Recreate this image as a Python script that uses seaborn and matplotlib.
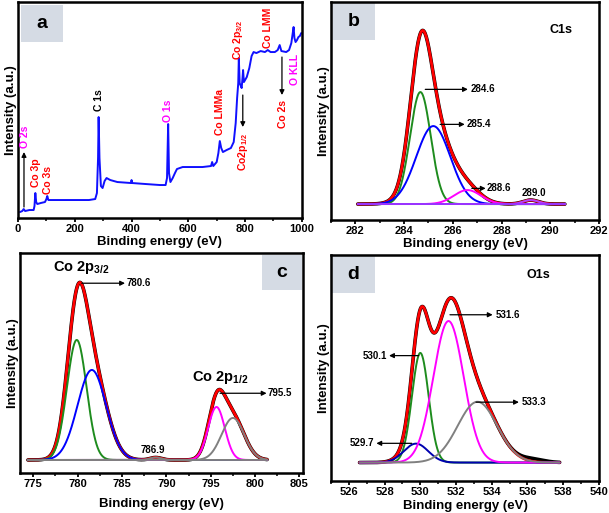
import numpy as np
import seaborn as sns
import matplotlib.pyplot as plt
from matplotlib.patches import Rectangle
from matplotlib.ticker import MultipleLocator

# ---- panel a: survey spectrum ----
survey_be = [7, 15, 20, 25, 40, 55, 58, 61, 64, 68, 80, 95, 100, 103, 107, 115, 150, 200, 250,
             272, 278, 282, 284, 287, 292, 298, 305, 312, 325, 350, 398, 400, 402, 450, 500,
             520, 525, 529, 532, 537, 545, 553, 560, 580, 650, 680, 684, 688, 700, 706, 711,
             716, 722, 735, 750, 760, 767, 772, 776, 778, 781, 785, 788, 791, 793, 796, 800,
             806, 815, 823, 830, 840, 855, 870, 880, 890, 905, 915, 922, 928, 945, 955, 963,
             968, 971, 974, 978, 983, 988, 993, 998]
survey_int = [6, 7, 9, 7, 8, 8, 12, 25, 16, 14, 15, 16, 19, 22, 18, 18, 18, 18, 18,
              19, 25, 60, 101, 60, 32, 30, 37, 40, 38, 36, 35, 38, 35, 34, 33,
              33, 40, 94, 45, 36, 40, 45, 49, 51, 51, 52, 56, 52, 56, 65, 77,
              70, 66, 68, 70, 76, 95, 120, 135, 160, 135, 132, 130, 140, 148, 136, 138,
              141, 150, 162, 166, 165, 167, 166, 168, 166, 166, 168, 173, 167, 166, 168, 175,
              185, 191, 180, 176, 178, 181, 182, 185]

survey_labels = ['O 2s', 'Co 3p', 'Co 3s', 'C 1s', 'O 1s', 'Co LMMa', 'Co 2p$_{3/2}$',
                 'Co2p$_{1/2}$', 'Co LMM', 'Co 2s', 'O KLL']
survey_label_x = [25, 63, 106, 285, 528, 711, 775, 792, 880, 933, 975]
survey_label_y = [81, 45, 38, 118, 107, 106, 178, 66, 190, 104, 149]
survey_label_col = ['#ff00ff', 'red', 'red', 'black', '#ff00ff', 'red', 'red',
                    'red', 'red', 'red', '#ff00ff']

# ---- panel b: C1s fit (centre, height, fwhm) ----
c1s_pos = [284.67, 285.2, 286.6, 289.2]
c1s_amp = [112, 78, 14, 4]
c1s_fwhm = [1.0, 1.65, 1.3, 0.75]
c1s_col = ['#1e8c1e', '#0000ff', '#ff00ff', '#b040ff']
c1s_range = [282.1, 290.6]
c1s_tags = ['284.6', '285.4', '288.6']

# ---- panel c: Co 2p fit ----
co_pos = [779.9, 781.6, 795.65, 797.5, 788.8]
co_amp = [120, 90, 53, 42, 2.5]
co_fwhm = [2.6, 3.8, 2.2, 3.0, 1.5]
co_col = ['#1e8c1e', '#0000ff', '#ff00ff', '#808080', '#808080']
co_range = [774.4, 801.35]

# ---- panel d: O1s fit ----
o1s_pos = [530.0, 529.76, 531.58, 533.2]
o1s_amp = [110, 19, 142, 61]
o1s_fwhm = [1.1, 1.6, 2.0, 2.6]
o1s_col = ['#1e8c1e', '#0000b0', '#ff00ff', '#808080']
o1s_range = [526.6, 537.8]
o1s_tail = [536.3, 3, 1.5]


def peak(x, c, h, w):
    return h * np.exp(-4 * np.log(2) * (x - c) ** 2 / w ** 2)


sns.set_theme(style='white')
plt.rcParams['font.family'] = ['Liberation Sans', 'DejaVu Sans']
plt.rcParams['font.weight'] = 'bold'
plt.rcParams['axes.labelweight'] = 'bold'
plt.rcParams['text.color'] = 'black'
plt.rcParams['axes.labelcolor'] = 'black'
plt.rcParams['xtick.color'] = 'black'
plt.rcParams['mathtext.fontset'] = 'custom'
for k in ['rm', 'it', 'bf', 'sf']:
    plt.rcParams['mathtext.' + k] = 'Liberation Sans:bold'

fig = plt.figure(figsize=(6.09, 5.13), dpi=100)
axa = fig.add_axes([0.0296, 0.575, 0.466, 0.421])
axb = fig.add_axes([0.5435, 0.571, 0.440, 0.425])
axc = fig.add_axes([0.0328, 0.078, 0.4647, 0.429])
axd = fig.add_axes([0.5435, 0.062, 0.440, 0.441])

box_col = '#d5dbe4'
arrow = dict(arrowstyle='-|>', color='black', lw=0.9, mutation_scale=7, shrinkA=0, shrinkB=0)


def style(ax, major, minor, xlim, ylim, letter, box, pad):
    ax.set_xlim(xlim)
    ax.set_ylim(ylim)
    ax.set_yticks([])
    ax.xaxis.set_major_locator(MultipleLocator(major))
    ax.xaxis.set_minor_locator(MultipleLocator(minor))
    ax.tick_params(axis='x', which='major', direction='out', length=3, width=1.3,
                   labelsize=8, pad=1.5, bottom=True)
    ax.tick_params(axis='x', which='minor', direction='out', length=2, width=1.1, bottom=True)
    for s in ax.spines.values():
        s.set_linewidth(1.8)
        s.set_color('black')
    ax.set_xlabel('Binding energy (eV)', fontsize=9.5, labelpad=pad)
    ax.set_ylabel('Intensity (a.u.)', fontsize=9.5, labelpad=0.5)
    ax.add_patch(Rectangle((box[0], box[1]), box[2], box[3], transform=ax.transAxes,
                           facecolor=box_col, edgecolor='none', zorder=0))
    ax.text(box[0] + box[2] / 2, box[1] + box[3] / 2, letter, transform=ax.transAxes,
            ha='center', va='center', fontsize=14, fontweight='bold')


# panel a
sns.lineplot(x=survey_be, y=survey_int, ax=axa, color='#1010ff', lw=1.4, sort=False, estimator=None)
for t, x, y, c in zip(survey_labels, survey_label_x, survey_label_y, survey_label_col):
    axa.text(x, y, t, rotation=90, ha='center', va='center', color=c, fontsize=7.5, fontweight='bold')
axa.annotate('', xy=(21, 66), xytext=(21, 11), arrowprops=arrow)
axa.annotate('', xy=(792, 91), xytext=(792, 123), arrowprops=arrow)
axa.annotate('', xy=(930, 123), xytext=(930, 161), arrowprops=arrow)
style(axa, 200, 100, (0, 1000), (0, 216), 'a', (0.011, 0.815, 0.148, 0.171), 1)

# panel b
xb = np.linspace(c1s_range[0], c1s_range[1], 600)
compb = [peak(xb, c, h, w) for c, h, w in zip(c1s_pos, c1s_amp, c1s_fwhm)]
envb = np.sum(compb, axis=0)
sns.lineplot(x=xb, y=envb, ax=axb, color='black', lw=2.6)
sns.lineplot(x=xb, y=envb, ax=axb, color='red', lw=2.0)
for y, c in zip(compb, c1s_col):
    sns.lineplot(x=xb, y=y, ax=axb, color=c, lw=1.4)
axb.plot(c1s_range, [0, 0], color='#9933ff', lw=1.4)
axb.annotate('', xy=(286.62, 114.7), xytext=(284.87, 114.7), arrowprops=arrow)
axb.annotate('', xy=(286.49, 79.7), xytext=(285.48, 79.7), arrowprops=arrow)
axb.annotate('', xy=(287.35, 15.7), xytext=(286.78, 15.7), arrowprops=arrow)
axb.text(286.74, 114.7, c1s_tags[0], fontsize=7, va='center', ha='left')
axb.text(286.58, 79.7, c1s_tags[1], fontsize=7, va='center', ha='left')
axb.text(287.4, 15.7, c1s_tags[2], fontsize=7, va='center', ha='left')
axb.text(289.32, 11.3, '289.0', fontsize=7, va='center', ha='center')
axb.text(290.46, 174, 'C1s', fontsize=9, va='center', ha='center')
style(axb, 2, 1, (281, 292), (-16, 202), 'b', (0.004, 0.826, 0.16, 0.169), 1)

# panel c
xc = np.linspace(co_range[0], co_range[1], 800)
compc = [peak(xc, c, h, w) for c, h, w in zip(co_pos, co_amp, co_fwhm)]
envc = np.sum(compc, axis=0)
sns.lineplot(x=xc, y=envc, ax=axc, color='black', lw=2.6)
sns.lineplot(x=xc, y=envc, ax=axc, color='red', lw=2.0)
for y, c in zip(compc, co_col):
    sns.lineplot(x=xc, y=y, ax=axc, color=c, lw=1.4)
axc.text(777.2, 192, 'Co 2p$_{3/2}$', fontsize=10.5, va='center', ha='left')
axc.text(792.9, 82, 'Co 2p$_{1/2}$', fontsize=10.5, va='center', ha='left')
axc.annotate('', xy=(785.34, 176.7), xytext=(780.46, 176.7), arrowprops=arrow)
axc.annotate('', xy=(801.3, 66.7), xytext=(796.05, 66.7), arrowprops=arrow)
axc.text(785.56, 176.7, '780.6', fontsize=7, va='center', ha='left')
axc.text(801.46, 66.7, '795.5', fontsize=7, va='center', ha='left')
axc.text(788.5, 10, '786.9', fontsize=7, va='center', ha='center')
style(axc, 5, 2.5, (773.5, 805.4), (-13, 207), 'c', (0.855, 0.832, 0.141, 0.158), 6)

# panel d
xd = np.linspace(o1s_range[0], o1s_range[1], 700)
compd = [peak(xd, c, h, w) for c, h, w in zip(o1s_pos, o1s_amp, o1s_fwhm)]
envd = np.sum(compd, axis=0)
sns.lineplot(x=xd, y=envd + peak(xd, *o1s_tail), ax=axd, color='black', lw=2.6)
sns.lineplot(x=xd, y=envd, ax=axd, color='red', lw=2.0)
for y, c in zip(compd, o1s_col):
    sns.lineplot(x=xd, y=y, ax=axd, color=c, lw=1.4)
axd.annotate('', xy=(534.05, 148.3), xytext=(531.66, 148.3), arrowprops=arrow)
axd.annotate('', xy=(528.25, 107.3), xytext=(529.91, 107.3), arrowprops=arrow)
axd.annotate('', xy=(535.52, 60.6), xytext=(533.12, 60.6), arrowprops=arrow)
axd.annotate('', xy=(527.54, 19.3), xytext=(529.52, 19.3), arrowprops=arrow)
axd.text(534.2, 148.3, '531.6', fontsize=7, va='center', ha='left')
axd.text(528.14, 107.3, '530.1', fontsize=7, va='center', ha='right')
axd.text(535.65, 60.6, '533.3', fontsize=7, va='center', ha='left')
axd.text(527.43, 19.3, '529.7', fontsize=7, va='center', ha='right')
axd.text(536.62, 188, 'O1s', fontsize=9, va='center', ha='center')
style(axd, 2, 1, (525, 540), (-18.7, 208.3), 'd', (0.004, 0.833, 0.16, 0.162), 1.5)

fig.savefig('out.png', dpi=100)
